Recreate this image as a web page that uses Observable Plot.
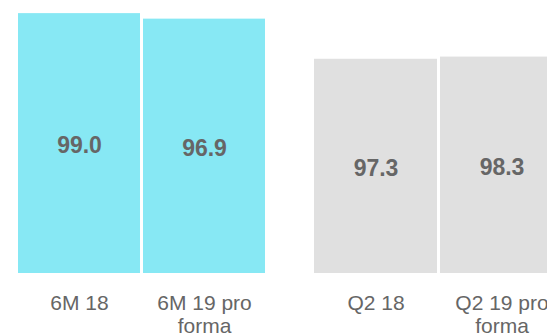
<!DOCTYPE html>
<html>
<head>
<meta charset="utf-8">
<script src="https://cdn.jsdelivr.net/npm/d3@7"></script>
<script src="https://cdn.jsdelivr.net/npm/@observablehq/plot@0.6"></script>
<style>
  html, body { margin: 0; padding: 0; background: #fff; }
  #wrap { position: relative; width: 547px; height: 334px; overflow: hidden; font-family: "Liberation Sans", Arial, sans-serif; }
  #left, #right { position: absolute; top: 0; height: 334px; }
  #left { left: 0; width: 280px; }
  #right { left: 290px; width: 300px; }
  #wrap svg { max-width: none !important; display: block; }
</style>
</head>
<body>
<div id="wrap"><div id="left"></div><div id="right"></div></div>
<script>
// Group 1 (six months)
const leftCategories = ["6M 18", "6M 19 pro forma"];
const leftTickLabels = ["6M 18", "6M 19 pro\nforma"];
const leftValues = [99.0, 96.9];
// Group 2 (second quarter)
const rightCategories = ["Q2 18", "Q2 19 pro forma"];
const rightTickLabels = ["Q2 18", "Q2 19 pro\nforma"];
const rightValues = [97.3, 98.3];

const textColor = "#666666";
const font = "'Liberation Sans', Arial, sans-serif";

function makeChart(categories, tickLabels, values, color, yMax, opts) {
  const data = categories.map((c, i) => ({cat: c, value: values[i]}));
  const labelOf = new Map(categories.map((c, i) => [c, tickLabels[i]]));
  return Plot.plot({
    width: opts.width,
    height: 334,
    marginLeft: opts.marginLeft,
    marginRight: opts.marginRight,
    marginTop: 0,
    marginBottom: 61,
    style: {fontFamily: font, background: "transparent", overflow: "visible"},
    x: {domain: categories, paddingInner: 0.024, paddingOuter: 0, axis: null, label: null},
    y: {domain: [0, yMax], axis: null},
    marks: [
      Plot.barY(data, {x: "cat", y: "value", fill: color}),
      Plot.text(data, {
        x: "cat",
        y: d => d.value / 2,
        text: d => d.value.toFixed(1),
        fill: textColor,
        fontSize: 23,
        fontWeight: "bold",
        dy: 2
      }),
      Plot.axisX({
        domain: categories,
        label: null,
        tickSize: 0,
        tickPadding: 19,
        fontSize: 21,
        lineHeight: 1.14,
        fill: textColor,
        tickFormat: c => labelOf.get(c)
      })
    ]
  });
}

document.getElementById("left").append(
  makeChart(leftCategories, leftTickLabels, leftValues, "#87E8F4", 104,
    {width: 280, marginLeft: 18, marginRight: 15})
);
document.getElementById("right").append(
  makeChart(rightCategories, rightTickLabels, rightValues, "#E0E0E0", 124,
    {width: 300, marginLeft: 24, marginRight: 27})
);
</script>
</body>
</html>
